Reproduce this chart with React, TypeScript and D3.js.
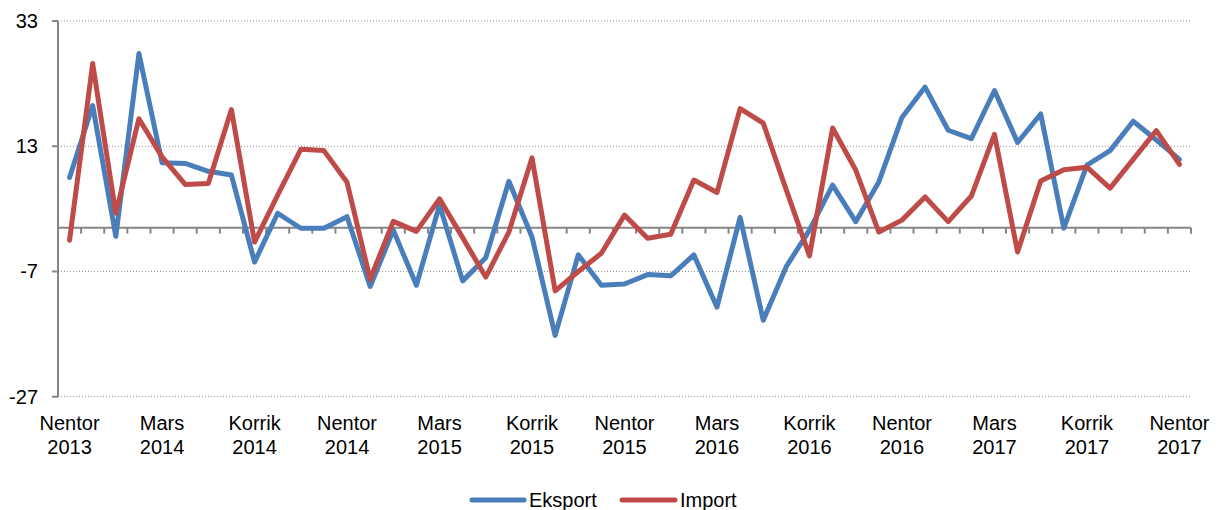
import React from "react";
import * as d3 from "d3";

const categories: string[] = [
  "Nentor 2013", "Dhjetor 2013", "Janar 2014", "Shkurt 2014", "Mars 2014", "Prill 2014", "Maj 2014",
  "Qershor 2014", "Korrik 2014", "Gusht 2014", "Shtator 2014", "Tetor 2014", "Nentor 2014", "Dhjetor 2014",
  "Janar 2015", "Shkurt 2015", "Mars 2015", "Prill 2015", "Maj 2015", "Qershor 2015", "Korrik 2015",
  "Gusht 2015", "Shtator 2015", "Tetor 2015", "Nentor 2015", "Dhjetor 2015", "Janar 2016", "Shkurt 2016",
  "Mars 2016", "Prill 2016", "Maj 2016", "Qershor 2016", "Korrik 2016", "Gusht 2016", "Shtator 2016",
  "Tetor 2016", "Nentor 2016", "Dhjetor 2016", "Janar 2017", "Shkurt 2017", "Mars 2017", "Prill 2017",
  "Maj 2017", "Qershor 2017", "Korrik 2017", "Gusht 2017", "Shtator 2017", "Tetor 2017", "Nentor 2017",
];

const eksport: number[] = [
  8.0, 19.5, -1.4, 27.8, 10.35, 10.25, 9.0, 8.4, -5.5, 2.3,
  -0.1, -0.1, 1.75, -9.4, -0.4, -9.2, 3.6, -8.5, -4.8, 7.4,
  -1.5, -17.2, -4.35, -9.2, -9.0, -7.5, -7.7, -4.35, -12.7, 1.65,
  -14.8, -6.2, -0.4, 6.8, 0.96, 7.3, 17.6, 22.45, 15.55, 14.2,
  21.9, 13.6, 18.15, -0.1, 10.0, 12.3, 17.0, 14.0, 10.9,
];

const importData: number[] = [
  -2.0, 26.2, 2.3, 17.4, 11.3, 6.9, 7.05, 18.85, -2.3, 5.2,
  12.5, 12.3, 7.25, -8.25, 1.0, -0.6, 4.6, -1.6, -7.9, -0.7,
  11.15, -10.1, -7.0, -4.1, 2.0, -1.7, -1.05, 7.6, 5.6, 19.0,
  16.7, 6.0, -4.5, 15.9, 9.2, -0.7, 1.2, 4.9, 0.96, 5.05,
  14.9, -3.9, 7.45, 9.25, 9.65, 6.3, 10.9, 15.5, 10.1,
];

const yTicks: number[] = [33, 13, -7, -27];
const labelEvery = 4;

const BLUE = "#4A7EBB";
const RED = "#BE4B48";
const AXIS = "#868686";
const FONT = "'Liberation Sans', Arial, sans-serif";

export default function App() {
  const width = 1221;
  const height = 510;
  const left = 58;
  const right = 1191;
  const top = 21;
  const bottom = 396.7;

  const x = d3
    .scaleBand<number>()
    .domain(categories.map((_, i) => i))
    .range([left, right])
    .paddingInner(0)
    .paddingOuter(0);
  const bw = x.bandwidth();
  const cx = (i: number) => (x(i) as number) + bw / 2;

  const y = d3.scaleLinear().domain([-27, 33]).range([bottom, top]);
  const y0 = y(0);

  const line = d3
    .line<number>()
    .x((_, i) => cx(i))
    .y((d) => y(d));

  const boundaries = d3.range(categories.length + 1).map((k) => left + k * bw);

  return (
    <svg
      width={width}
      height={height}
      style={{ position: "absolute", left: 0, top: 0, display: "block", background: "#fff" }}
      fontFamily={FONT}
    >
      {/* gridlines */}
      {yTicks.map((t) => (
        <line
          key={"g" + t}
          x1={left}
          x2={right - 1}
          y1={y(t)}
          y2={y(t)}
          stroke="#8a8a8a"
          strokeWidth={1}
          strokeDasharray="1 2"
        />
      ))}
      {/* y axis */}
      <line x1={left} x2={left} y1={top} y2={bottom} stroke={AXIS} strokeWidth={2} />
      {yTicks.map((t) => (
        <g key={"t" + t}>
          <line x1={left - 6} x2={left} y1={y(t)} y2={y(t)} stroke={AXIS} strokeWidth={2} />
          <text x={38} y={y(t)} textAnchor="end" dominantBaseline="central" fontSize={20} fill="#000">
            {t}
          </text>
        </g>
      ))}
      {/* zero axis */}
      <line x1={left} x2={right} y1={y0} y2={y0} stroke={AXIS} strokeWidth={2} />
      {boundaries.map((bx, k) =>
        k === 0 ? null : (
          <line key={"b" + k} x1={bx} x2={bx} y1={y0} y2={y0 + 6} stroke={AXIS} strokeWidth={2} />
        )
      )}
      {/* x labels */}
      {categories.map((c, i) => {
        if (i % labelEvery !== 0) return null;
        const [m, yr] = c.split(" ");
        return (
          <text key={"x" + i} x={cx(i)} textAnchor="middle" fontSize={20} fill="#000">
            <tspan x={cx(i)} y={430}>
              {m}
            </tspan>
            <tspan x={cx(i)} y={454}>
              {yr}
            </tspan>
          </text>
        );
      })}
      {/* series */}
      <path d={line(eksport) || ""} fill="none" stroke={BLUE} strokeWidth={5} strokeLinejoin="round" strokeLinecap="round" />
      <path d={line(importData) || ""} fill="none" stroke={RED} strokeWidth={5} strokeLinejoin="round" strokeLinecap="round" />
      {/* legend */}
      <line x1={472} x2={524} y1={500} y2={500} stroke={BLUE} strokeWidth={5} strokeLinecap="round" />
      <text x={529} y={507} fontSize={20} fill="#000">
        Eksport
      </text>
      <line x1={622} x2={675} y1={500} y2={500} stroke={RED} strokeWidth={5} strokeLinecap="round" />
      <text x={680} y={507} fontSize={20} fill="#000">
        Import
      </text>
    </svg>
  );
}
